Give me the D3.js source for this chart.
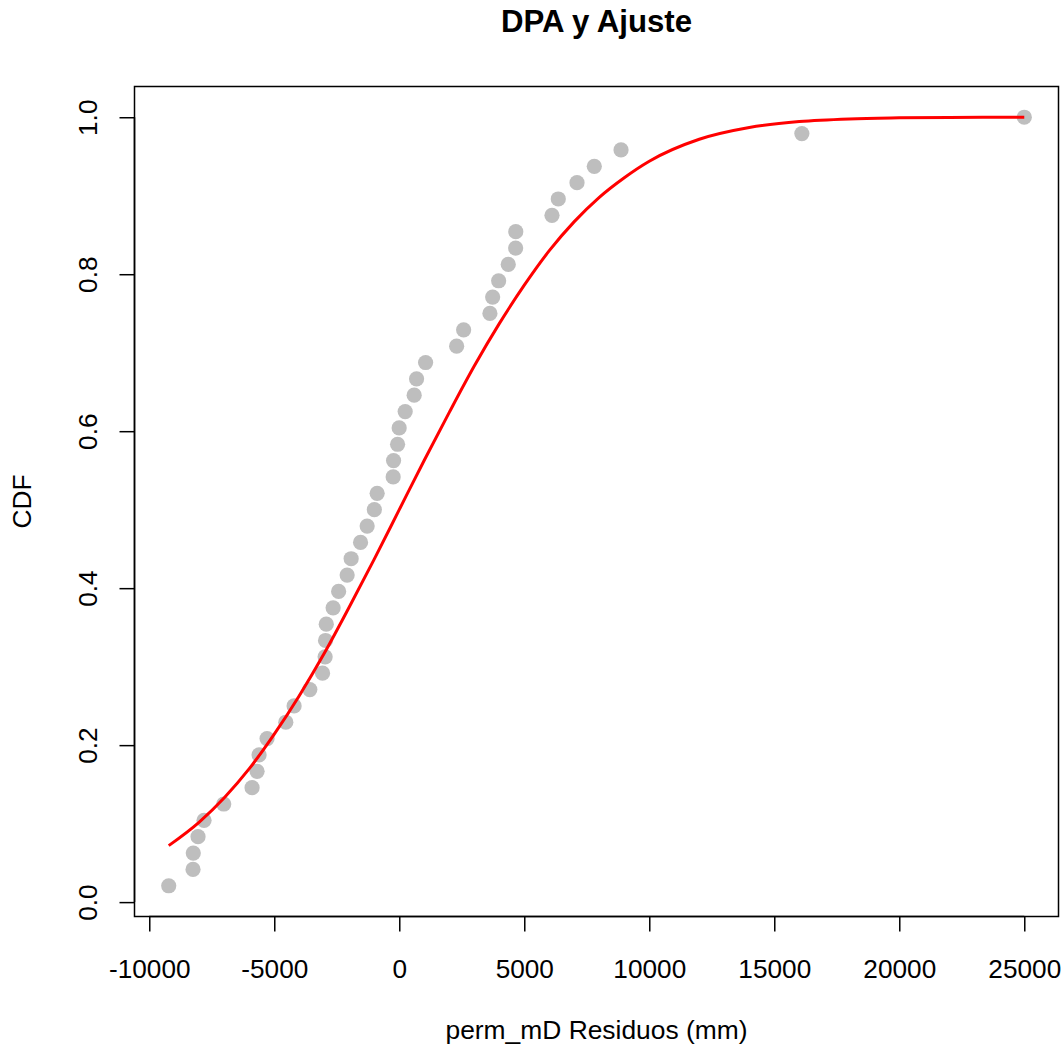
<!DOCTYPE html>
<html>
<head>
<meta charset="utf-8">
<script src="https://cdn.jsdelivr.net/npm/d3@7"></script>
<style>
  body { margin: 0; background: #fff; }
  text { font-family: "Liberation Sans", Arial, sans-serif; fill: #000; }
</style>
</head>
<body>
<svg id="chart" width="1064" height="1046"></svg>
<script>
// sorted residuals (empirical CDF points, i/48)
var residuos = [-9222,-8250,-8240,-8050,-7809,-7021,-5888,-5688,-5608,-5288,
  -4539,-4207,-3578,-3070,-2966,-2950,-2920,-2646,-2426,-2085,
  -1925,-1549,-1285,-997,-885,-244,-228,-68,-4,236,
  596,692,1053,2294,2574,3626,3735,3975,4359,4655,
  4660,6108,6360,7109,7801,8870,16103,25000];

// fitted curve
var ajusteX = [-9222,-8000,-7000,-6000,-5000,-4000,-3000,-2000,-1000,0,
  1000,2000,3000,4000,5000,6000,7000,8000,9000,10000,
  12000,14000,16000,18000,20000,22000,25000];
var ajusteY = [0.072,0.102,0.133,0.170,0.214,0.263,0.317,0.376,0.437,0.5,
  0.563,0.624,0.683,0.737,0.786,0.830,0.867,0.898,0.923,0.944,
  0.972,0.987,0.9945,0.9979,0.9992,0.9998,1.0];

var xTicks = [-10000,-5000,0,5000,10000,15000,20000,25000];
var yTicks = [0,0.2,0.4,0.6,0.8,1.0];

var n = residuos.length;
var cdf = residuos.map(function(d,i){ return {x:d, y:(i+1)/n}; });
var ajuste = ajusteX.map(function(d,i){ return {x:d, y:ajusteY[i]}; });

var box = {left:134.5, right:1058.5, top:86.5, bottom:916.5};
var FONT = "'Liberation Sans', Arial, sans-serif";

// R style 4% extension of the data range
function extend(ext){
  var pad=(ext[1]-ext[0])*0.04;
  return [ext[0]-pad, ext[1]+pad];
}
var x = d3.scaleLinear().domain(extend(d3.extent(residuos))).range([box.left,box.right]);
var y = d3.scaleLinear().domain(extend(d3.extent(cdf,function(d){return d.y;}))).range([box.bottom,box.top]);

var svg = d3.select("#chart");

// points
svg.append("g").selectAll("circle")
  .data(cdf)
  .enter().append("circle")
  .attr("cx",function(d){return x(d.x);})
  .attr("cy",function(d){return y(d.y);})
  .attr("r",7.6)
  .attr("fill","#bebebe");

// fitted line
var line = d3.line()
  .x(function(d){return x(d.x);})
  .y(function(d){return y(d.y);})
  .curve(d3.curveMonotoneX);
svg.append("path")
  .datum(ajuste)
  .attr("d",line)
  .attr("fill","none")
  .attr("stroke","#ff0000")
  .attr("stroke-width",3);

// box
svg.append("rect")
  .attr("x",box.left).attr("y",box.top)
  .attr("width",box.right-box.left).attr("height",box.bottom-box.top)
  .attr("fill","none").attr("stroke","#000").attr("stroke-width",1.5);

// axes (plain hyphen minus like R)
var xAxis = svg.append("g")
  .attr("transform","translate(0,"+box.bottom+")")
  .call(d3.axisBottom(x).tickValues(xTicks).tickSize(15).tickFormat(function(d){return String(d);}));
xAxis.select(".domain").attr("d","M"+x(xTicks[0])+",0H"+x(xTicks[xTicks.length-1]));
xAxis.selectAll("text").attr("dy",null).attr("y",61).style("font-size","26.2px").style("font-family",FONT);

var yAxis = svg.append("g")
  .attr("transform","translate("+box.left+",0)")
  .call(d3.axisLeft(y).tickValues(yTicks).tickSize(15).tickFormat(d3.format(".1f")));
yAxis.select(".domain").attr("d","M0,"+y(yTicks[0])+"V"+y(yTicks[yTicks.length-1]));
yAxis.selectAll("text")
  .attr("x",null).attr("dy",null)
  .attr("text-anchor","middle")
  .attr("transform","translate(-38,0) rotate(-90)")
  .style("font-size","26.2px").style("font-family",FONT);
svg.selectAll(".domain, .tick line").attr("stroke","#000").attr("stroke-width",1.5);

// labels
svg.append("text")
  .attr("x",(box.left+box.right)/2).attr("y",32)
  .attr("text-anchor","middle")
  .style("font-size","31.2px").style("font-weight","bold")
  .text("DPA y Ajuste");

svg.append("text")
  .attr("x",(box.left+box.right)/2).attr("y",1039)
  .attr("text-anchor","middle")
  .style("font-size","26.4px")
  .text("perm_mD Residuos (mm)");

svg.append("text")
  .attr("transform","translate(31,"+((box.top+box.bottom)/2)+") rotate(-90)")
  .attr("text-anchor","middle")
  .style("font-size","26.2px")
  .text("CDF");
</script>
</body>
</html>
